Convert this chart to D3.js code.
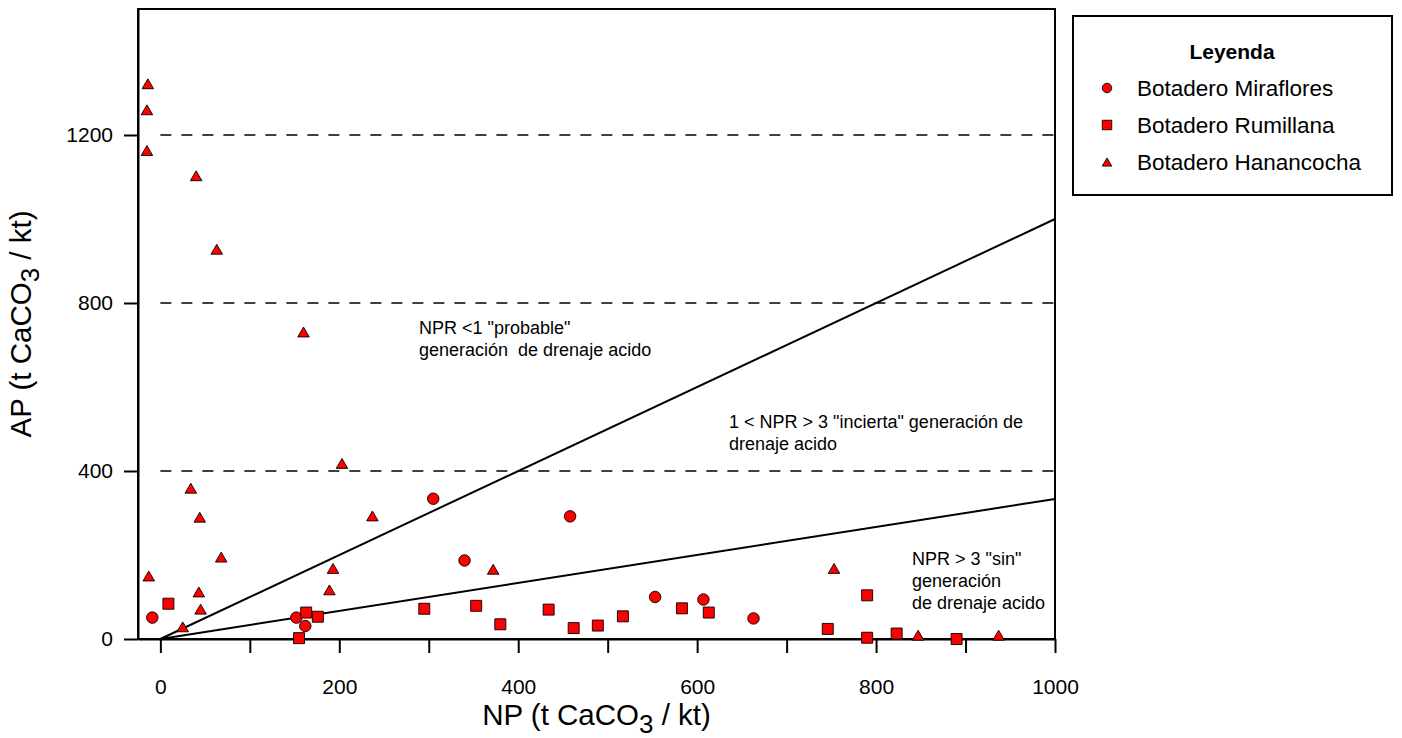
<!DOCTYPE html>
<html>
<head>
<meta charset="utf-8">
<script src="https://cdn.jsdelivr.net/npm/d3@7"></script>
<style>
  html, body { margin: 0; padding: 0; background: #ffffff; }
  svg { display: block; font-family: "Liberation Sans", Arial, Helvetica, sans-serif; }
  text { white-space: pre; }
</style>
</head>
<body>
<svg id="chart" width="1402" height="738"></svg>
<script>
// NP (neutralization potential) vs AP (acid potential), t CaCO3 / kt
const miraflores = [
  [-9, 51], [152, 51], [162, 31], [305, 334], [340, 187],
  [458, 292], [553, 100], [607, 94], [663, 49]
];
const rumillana = [
  [9, 84], [155, 2], [163, 63], [176, 53], [295, 72], [353, 79],
  [380, 35], [434, 70], [462, 26], [489, 32], [517, 54], [583, 73],
  [613, 63], [746, 24], [790, 104], [790, 3], [823, 13], [890, 0]
];
const hanancocha = [
  [-14, 1322], [-15, 1260], [-15, 1163], [40, 1103], [63, 928],
  [160, 731], [203, 418], [34, 359], [44, 290], [237, 293],
  [68, 195], [-13, 150], [193, 168], [43, 112], [189, 117],
  [45, 71], [25, 29], [372, 166], [753, 168], [847, 9], [937, 9]
];

const seriesNames = ["Botadero Miraflores", "Botadero Rumillana", "Botadero Hanancocha"];
const seriesShapes = ["circle", "square", "triangle"];

const xTickValues = [0, 100, 200, 300, 400, 500, 600, 700, 800, 900, 1000];
const yTickValues = [0, 400, 800, 1200];
const guideLevels = [400, 800, 1200];
// NPR = NP / AP reference ratios
const nprRatios = [1, 3];

const xDomain = [-25, 1000];
const yDomain = [0, 1500];

const svg = d3.select("#chart");
const plot = { left: 138, right: 1055, top: 9, bottom: 639 };

const x = d3.scaleLinear().domain(xDomain).range([plot.left, plot.right]);
const y = d3.scaleLinear().domain(yDomain).range([plot.bottom, plot.top]);

// dashed horizontal guides
svg.append("g").selectAll("line").data(guideLevels).join("line")
  .attr("x1", x(0)).attr("x2", x(1000))
  .attr("y1", d => y(d)).attr("y2", d => y(d))
  .attr("stroke", "#000").attr("stroke-width", 1.6)
  .attr("stroke-dasharray", "11,10");

// NPR reference lines from the origin
svg.append("g").selectAll("line").data(nprRatios).join("line")
  .attr("x1", x(0)).attr("y1", y(0))
  .attr("x2", x(1000)).attr("y2", r => y(1000 / r))
  .attr("stroke", "#000").attr("stroke-width", 2);

// frame
svg.append("rect")
  .attr("x", plot.left).attr("y", plot.top)
  .attr("width", plot.right - plot.left).attr("height", plot.bottom - plot.top)
  .attr("fill", "none").attr("stroke", "#000").attr("stroke-width", 2);

// axes
const fmt = d3.format("d");
const xAxis = svg.append("g").attr("transform", `translate(0,${plot.bottom})`)
  .call(d3.axisBottom(x).tickValues(xTickValues).tickSize(14).tickSizeOuter(0).tickPadding(26)
    .tickFormat(d => d % 200 === 0 ? fmt(d) : ""));
const yAxis = svg.append("g").attr("transform", `translate(${plot.left},0)`)
  .call(d3.axisLeft(y).tickValues(yTickValues).tickSize(14).tickSizeOuter(0).tickPadding(11)
    .tickFormat(fmt));
[xAxis, yAxis].forEach(g => {
  g.select(".domain").attr("stroke", "#000").attr("stroke-width", 2);
  g.selectAll(".tick line").attr("stroke", "#000").attr("stroke-width", 2);
  g.selectAll(".tick text").attr("fill", "#000")
    .style("font-family", "'Liberation Sans', Arial, sans-serif").style("font-size", "21px");
});

// axis titles with CaCO3 subscript
function title(sel) {
  sel.attr("font-size", 29.5).attr("fill", "#000").attr("text-anchor", "middle");
  sel.append("tspan").text("(t CaCO");
  sel.append("tspan").attr("font-size", 26).attr("dy", 8).text("3");
  sel.append("tspan").attr("dy", -8).text(" / kt)");
}
svg.append("text").attr("x", (plot.left + plot.right) / 2).attr("y", 725)
  .call(s => { s.append("tspan").text("NP "); }).call(title);
svg.append("text").attr("transform", `translate(31,${(plot.top + plot.bottom) / 2}) rotate(-90)`)
  .call(s => { s.append("tspan").text("AP "); }).call(title);

// marker shapes
function shapePath(shape, size) {
  const h = size / 2;
  if (shape === "circle") {
    return `M${h},0A${h},${h},0,1,1,${-h},0A${h},${h},0,1,1,${h},0Z`;
  }
  if (shape === "square") {
    return `M${-h},${-h}H${h}V${h}H${-h}Z`;
  }
  const th = size * 0.86 / 2;
  return `M0,${-th}L${h},${th}L${-h},${th}Z`;
}

const allSeries = [miraflores, rumillana, hanancocha];
const markerSize = [11.5, 11, 11.5];
allSeries.forEach((pts, i) => {
  svg.append("g").selectAll("path").data(pts).join("path")
    .attr("transform", d => `translate(${x(d[0])},${y(d[1])})`)
    .attr("d", shapePath(seriesShapes[i], markerSize[i]))
    .attr("fill", "#ff0000").attr("stroke", "#000").attr("stroke-width", 0.9);
});

// region annotations
const notes = [
  { x: 419, y: 334, lines: ["NPR <1 \"probable\"", "generación  de drenaje acido"] },
  { x: 729, y: 428, lines: ["1 < NPR > 3 \"incierta\" generación de", "drenaje acido"] },
  { x: 912, y: 565, lines: ["NPR > 3 \"sin\"", "generación", "de drenaje acido"] }
];
notes.forEach(n => {
  const t = svg.append("text").attr("x", n.x).attr("y", n.y)
    .attr("font-size", 18).attr("fill", "#000");
  n.lines.forEach((l, i) => t.append("tspan").attr("x", n.x).attr("dy", i === 0 ? 0 : 22).text(l));
});

// legend
const lg = svg.append("g");
lg.append("rect").attr("x", 1073).attr("y", 16).attr("width", 319).attr("height", 179)
  .attr("fill", "#fff").attr("stroke", "#000").attr("stroke-width", 2);
lg.append("text").attr("x", 1232).attr("y", 59).attr("text-anchor", "middle")
  .attr("font-size", 21).attr("font-weight", "bold").text("Leyenda");
seriesNames.forEach((name, i) => {
  const cy = 88 + i * 37;
  lg.append("path").attr("transform", `translate(1107,${cy})`)
    .attr("d", shapePath(seriesShapes[i], 9.5))
    .attr("fill", "#ff0000").attr("stroke", "#000").attr("stroke-width", 0.9);
  lg.append("text").attr("x", 1137).attr("y", cy + 8).attr("font-size", 22.5).text(name);
});
</script>
</body>
</html>
